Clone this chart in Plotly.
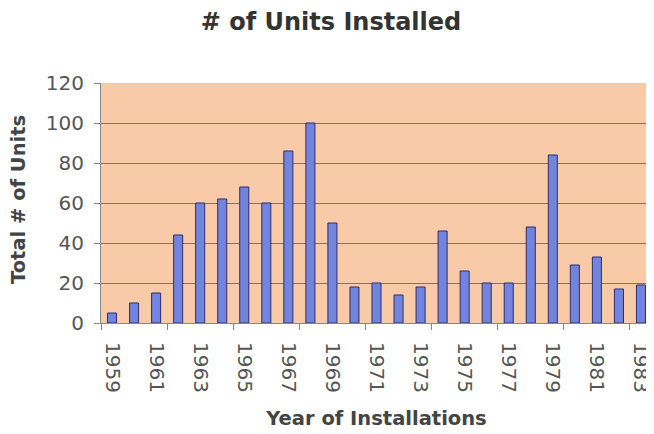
import plotly.graph_objects as go

years = list(range(1959, 1984))
units = [5, 10, 15, 44, 60, 62, 68, 60, 86, 100, 50, 18, 20,
         14, 18, 46, 26, 20, 20, 48, 84, 29, 33, 17, 19]
label_years = list(range(1959, 1984, 2))
y_ticks = [0, 20, 40, 60, 80, 100, 120]
boundary_ticks = [1958.5 + 3 * k for k in range(9)]

fig = go.Figure(go.Bar(
    x=years, y=units,
    marker=dict(color="#7284DE", line=dict(color="#2B2F6E", width=1)),
))

font = "DejaVu Sans"
# page body adds an 8px offset, so the figure is sized/margined to compensate
fig.update_layout(
    width=646, height=426,
    margin=dict(l=93, r=2, t=75, b=111, autoexpand=False),
    paper_bgcolor="white",
    plot_bgcolor="#F9CAA8",
    bargap=0.59,
    showlegend=False,
    title=dict(text="<b># of Units Installed</b>", x=0.5, xanchor="center",
               y=0.967, yanchor="middle", xref="container",
               font=dict(family=font, size=24, color="#333333")),
    xaxis=dict(
        range=[1958.5, 1983.5], automargin=False,
        tickmode="array", tickvals=label_years,
        ticktext=[str(y) for y in label_years],
        tickangle=90, ticks="", ticklen=0, ticklabelstandoff=14,
        tickfont=dict(family=font, size=20, color="#555555"),
        showgrid=False, zeroline=False,
        showline=True, linecolor="#888888", linewidth=1,
        minor=dict(tickmode="array", tickvals=boundary_ticks, ticks="outside",
                   ticklen=6, tickcolor="#888888", showgrid=False),
        title=dict(text="<b>Year of Installations</b>", standoff=19,
                   font=dict(family=font, size=19.5, color="#444444")),
    ),
    yaxis=dict(
        range=[0, 120], automargin=False,
        tickmode="array", tickvals=y_ticks,
        ticks="outside", ticklen=6, tickcolor="#888888", ticklabelstandoff=6,
        tickfont=dict(family=font, size=20, color="#555555"),
        showgrid=True, gridcolor="#8C6F5E", gridwidth=1,
        zeroline=False,
        showline=True, linecolor="#888888", linewidth=1,
    ),
    annotations=[dict(
        text="<b>Total # of Units</b>", textangle=-90,
        xref="paper", yref="paper", x=-0.1506, y=0.5125,
        xanchor="center", yanchor="middle", showarrow=False,
        font=dict(family=font, size=19.5, color="#444444"),
    )],
)

fig.write_html("out.html")
